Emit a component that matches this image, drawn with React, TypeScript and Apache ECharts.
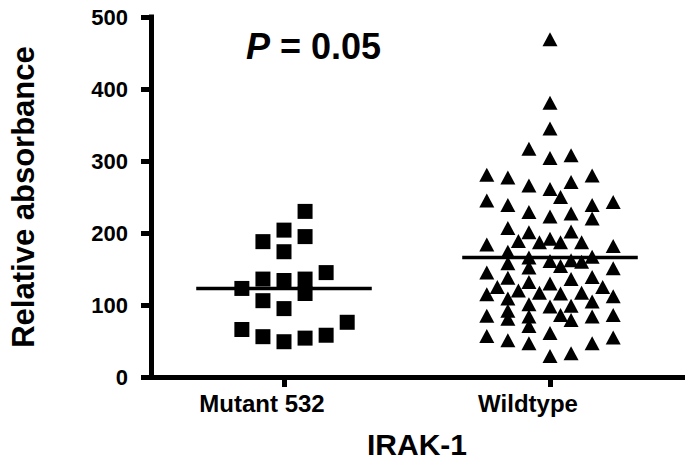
import React, { useEffect, useRef } from "react";
import * as echarts from "echarts";

const categories = ["Mutant 532", "Wildtype"];
const yTickMin = 0;
const yTickMax = 500;
const yTickStep = 100;

// Mutant 532: values and dot-plot column slot (in column units)
const mutantValues = [230, 204, 195, 188, 174, 145, 136, 134, 136, 123, 116, 106, 95, 66, 76, 56, 49, 54, 58];
const mutantColumns = [1, 0, 1, -1, 0, 2, -1, 0, 1, -2, 1, -1, 0, -2, 3, -1, 0, 1, 2];

// Wildtype: values and dot-plot column slot
const wildtypeValues = [
  469, 381, 345, 317, 308, 304, 281, 277, 266, 261, 271, 280,
  245, 250, 239, 243, 239, 229, 223, 227, 220, 207, 202, 201,
  189, 184, 187, 192, 187, 187, 182, 174, 166, 167, 158, 152,
  161, 154, 162, 160, 145, 151, 138, 125, 132, 130, 136, 139,
  120, 117, 116, 117, 125, 115, 109, 112, 101, 98, 99, 105,
  92, 86, 85, 84, 81, 79, 84, 86, 71, 57, 51, 47, 61, 47, 55, 29, 33,
];
const wildtypeColumns = [
  0, 0, 0, -1, 1, 0, -3, -2, -1, 0, 1, 2,
  -3, 0.5, -2, 3, 2, -1, 0, 1, 2, -2, 1, -1,
  -1.5, -3, -0.5, 0, 0.5, 1.5, 3, -2, -1, 2, -2, -1,
  0, 0.5, 1, 1.5, -3, 3, -2, -2.5, -1, 0, 1, 2,
  -1.5, -0.5, 0.5, 1.5, 2.5, -3, -2, 3, -1, 0, 1, 2,
  -2, 0.5, -3, -1, -2, 1, 2, 3, -1, -3, -2, -1, 0, 2, 3, 0, 1,
];

const groupMeans = [123, 166];

const FONT = "'Liberation Sans', Arial, Helvetica, sans-serif";

export default function App() {
  const ref = useRef<HTMLDivElement>(null);

  useEffect(() => {
    if (!ref.current) return;
    const chart = echarts.init(ref.current, null, { renderer: "svg" });

    const COL_FRACTION = 0.0792; // column spacing as fraction of band width
    const HALF_LINE = 0.33; // half length of mean line as fraction of band width

    const pointRender = (shape: "square" | "triangle") => (params: any, api: any) => {
      const [cx, cy] = api.coord([api.value(0), api.value(1)]);
      const band = api.size([1, 0])[0];
      const x = cx + api.value(2) * band * COL_FRACTION;
      if (shape === "square") {
        return {
          type: "rect",
          shape: { x: x - 7.5, y: cy - 7.5, width: 15, height: 15 },
          style: { fill: "#000" },
        };
      }
      return {
        type: "polygon",
        shape: { points: [[x, cy - 7], [x + 7.5, cy + 7], [x - 7.5, cy + 7]] },
        style: { fill: "#000" },
      };
    };

    const option: any = {
      animation: false,
      backgroundColor: "#fff",
      title: {
        text: "{p|P} = 0.05",
        left: 241,
        top: 23,
        textStyle: {
          fontFamily: FONT,
          fontSize: 36,
          fontWeight: "bold",
          color: "#000",
          rich: {
            p: { fontFamily: FONT, fontSize: 36, fontWeight: "bold", fontStyle: "italic", color: "#000" },
          },
        },
      },
      grid: { left: 143, right: 2, top: 17, bottom: 95, containLabel: false },
      xAxis: {
        type: "category",
        data: categories,
        boundaryGap: true,
        axisLine: { show: true, lineStyle: { color: "#000", width: 5, cap: "square" } },
        axisTick: { show: true, alignWithLabel: true, length: 10, lineStyle: { color: "#000", width: 5 } },
        axisLabel: {
          color: "#000",
          fontFamily: FONT,
          fontSize: 24,
          fontWeight: "bold",
          margin: 14,
          padding: [0, 44, 0, 0],
        },
        splitLine: { show: false },
        name: "IRAK-1",
        nameLocation: "middle",
        nameGap: 52,
        nameTextStyle: { color: "#000", fontFamily: FONT, fontSize: 30, fontWeight: "bold" },
      },
      yAxis: {
        type: "value",
        min: yTickMin,
        max: yTickMax,
        interval: yTickStep,
        axisLine: { show: true, lineStyle: { color: "#000", width: 5, cap: "square" } },
        axisTick: { show: true, length: 10, lineStyle: { color: "#000", width: 5 } },
        axisLabel: {
          color: "#000",
          fontFamily: FONT,
          fontSize: 22,
          fontWeight: "bold",
          margin: 23,
        },
        splitLine: { show: false },
        name: "Relative absorbance",
        nameLocation: "middle",
        nameGap: 112,
        nameTextStyle: { color: "#000", fontFamily: FONT, fontSize: 31, fontWeight: "bold" },
      },
      series: [
        {
          name: "Mutant 532",
          type: "custom",
          renderItem: pointRender("square"),
          encode: { x: 0, y: 1 },
          data: mutantValues.map((v, i) => [0, v, mutantColumns[i]]),
          z: 3,
        },
        {
          name: "Wildtype",
          type: "custom",
          renderItem: pointRender("triangle"),
          encode: { x: 0, y: 1 },
          data: wildtypeValues.map((v, i) => [1, v, wildtypeColumns[i]]),
          z: 3,
        },
        {
          name: "Mean",
          type: "custom",
          renderItem: (params: any, api: any) => {
            const [cx, cy] = api.coord([api.value(0), api.value(1)]);
            const band = api.size([1, 0])[0];
            return {
              type: "line",
              shape: { x1: cx - band * HALF_LINE, y1: cy, x2: cx + band * HALF_LINE, y2: cy },
              style: { stroke: "#000", lineWidth: 3.5 },
            };
          },
          encode: { x: 0, y: 1 },
          data: groupMeans.map((m, i) => [i, m]),
          z: 4,
        },
      ],
    };

    chart.setOption(option);
    return () => chart.dispose();
  }, []);

  return (
    <div
      ref={ref}
      style={{ position: "fixed", left: 0, top: 0, width: 685, height: 472, background: "#fff" }}
    />
  );
}
